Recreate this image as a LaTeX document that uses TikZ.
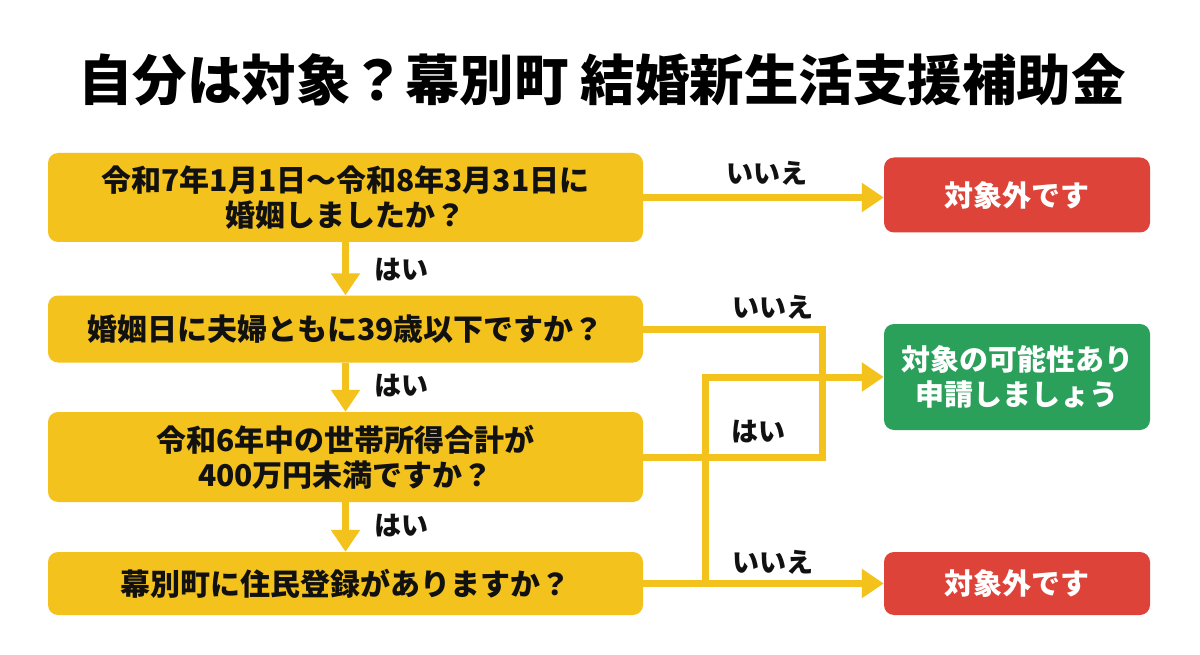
\documentclass[tikz,border=0pt]{standalone}
\usepackage{fontspec}
\setmainfont{Noto Sans CJK JP}
\usetikzlibrary{arrows.meta}
\definecolor{qyellow}{HTML}{F4C21C}
\definecolor{qred}{HTML}{DE4339}
\definecolor{qgreen}{HTML}{2AA05A}
\definecolor{qtext}{HTML}{111111}
\tikzset{
  qbox/.style={fill=qyellow, rounded corners=10pt, minimum width=595pt, align=center,
    text=qtext, font=\fontsize{30}{35}\selectfont\bfseries, inner sep=0pt},
  rbox/.style={rounded corners=10pt, minimum width=266pt, align=center, text=white,
    font=\fontsize{29}{35}\selectfont\bfseries, inner sep=0pt},
  lbl/.style={text=qtext, font=\fontsize{27}{30}\selectfont\bfseries, inner sep=0pt},
  conn/.style={draw=qyellow, line width=7pt},
  arr/.style={conn, -{Triangle[length=22pt,width=28pt]}},
}
\begin{document}
\begin{tikzpicture}[x=1pt,y=-1pt]
\useasboundingbox (0,0) rectangle (1200,655);
\fill[white] (0,0) rectangle (1200,655);
\node[text=black, font=\fontsize{54.5}{60}\selectfont\bfseries, inner sep=0pt] (title) at (602,80) {自分は対象？幕別町 結婚新生活支援補助金};
% question boxes
\node[qbox, minimum height=89pt] (b1) at (345.5,197.5) {令和7年1月1日～令和8年3月31日に\\婚姻しましたか？};
\node[qbox, minimum height=67pt] (b2) at (345.5,329) {婚姻日に夫婦ともに39歳以下ですか？};
\node[qbox, minimum height=90pt] (b3) at (345.5,457) {令和6年中の世帯所得合計が\\400万円未満ですか？};
\node[qbox, minimum height=63pt] (b4) at (345.5,583.5) {幕別町に住民登録がありますか？};
% result boxes
\node[rbox, fill=qred, minimum height=75pt] (r1) at (1017,195) {対象外です};
\node[rbox, fill=qgreen, minimum height=106pt] (g) at (1017,377) {対象の可能性あり\\申請しましょう};
\node[rbox, fill=qred, minimum height=63pt] (r2) at (1017,583.5) {対象外です};
% helper coordinates
\coordinate (xL) at (705,0);
\coordinate (xR) at (822,0);
% vertical yes arrows
\draw[arr] (b1.south) -- (b2.north);
\draw[arr] (b2.south) -- (b3.north);
\draw[arr] (b3.south) -- (b4.north);
\node[lbl] (y1) at (401,270) {はい};
\node[lbl] (y2) at (401,386) {はい};
\node[lbl] (y3) at (401,526) {はい};
% right connectors
\draw[arr] (b1.east) -- (b1.east -| r1.west);
\node[lbl] (n1) at (767,173) {いいえ};
\draw[conn] (b2.east) -- (b2.east -| xR) |- (b3.east);
\node[lbl] (n2) at (773,307) {いいえ};
\node[lbl] (y4) at (758,432) {はい};
\draw[arr] (b4.east -| xL) |- (g.west);
\draw[arr] (b4.east) -- (r2.west);
\node[lbl] (n3) at (773,562) {いいえ};
\end{tikzpicture}
\end{document}
